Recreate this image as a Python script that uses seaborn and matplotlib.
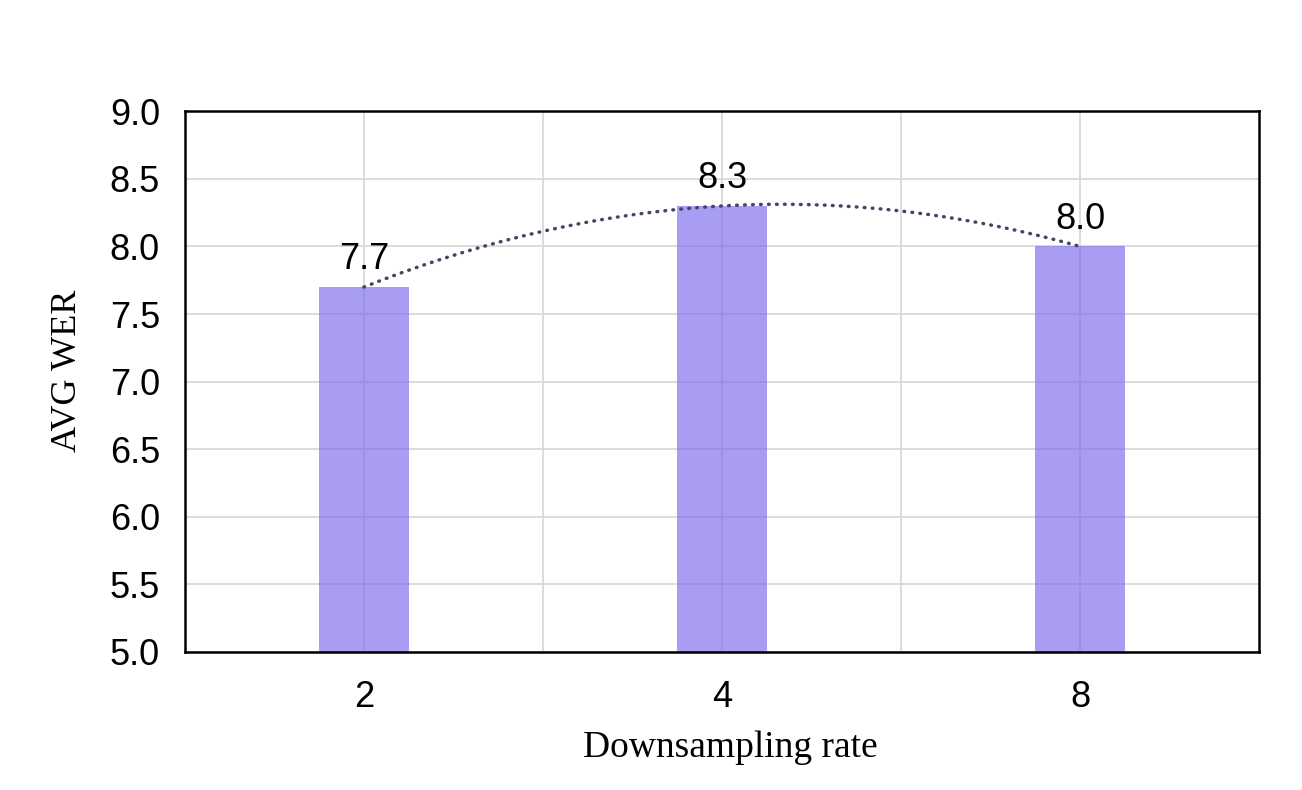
import numpy as np
import pandas as pd
import matplotlib
matplotlib.use("Agg")
import matplotlib.pyplot as plt
import seaborn as sns

# Data
rates = ["2", "4", "8"]
avg_wer = [7.7, 8.3, 8.0]
y_ticks = [5.0, 5.5, 6.0, 6.5, 7.0, 7.5, 8.0, 8.5, 9.0]

df = pd.DataFrame({"rate": rates, "wer": avg_wer})

sns.set_theme(style="white")
plt.rcParams["font.family"] = ["Liberation Sans", "DejaVu Sans"]

fig = plt.figure(figsize=(13.02, 7.9), dpi=100)
ax = fig.add_axes([0.142, 0.175, 0.825, 0.684])

ax.set_axisbelow(True)
sns.barplot(data=df, x="rate", y="wer", order=rates, color="#7B68EE",
            width=0.25, alpha=0.65, ax=ax, saturation=1, linewidth=0)

# smooth dotted trend curve through the bar tops
pos = np.arange(len(rates))
coef = np.polyfit(pos, avg_wer, 2)
xs = np.linspace(pos[0], pos[-1], 200)
ax.plot(xs, np.polyval(coef, xs), color="#3e4a63", lw=2.5,
        linestyle=(0, (0.2, 2.1)), dash_capstyle="round", zorder=3)

for p, v in zip(pos, avg_wer):
    ax.annotate(f"{v:.1f}", (p, v), xytext=(0, 7), textcoords="offset points",
                ha="center", va="bottom", fontsize=26, color="black")

ax.set_ylim(5.0, 9.0)
ax.set_xlim(-0.5, len(rates) - 0.5)
ax.set_yticks(y_ticks)
ax.set_yticklabels([f"{t:.1f}" for t in y_ticks])
ax.set_xticks(pos)
ax.set_xticklabels(rates)
ax.set_xticks(pos[:-1] + 0.5, minor=True)

ax.grid(True, which="both", color="#d9d9d9", lw=1.3)
ax.tick_params(axis="both", which="both", length=0, labelsize=26, colors="black")
ax.tick_params(axis="y", pad=18)
ax.tick_params(axis="x", pad=20)

for s in ax.spines.values():
    s.set_visible(True)
    s.set_color("black")
    s.set_linewidth(1.8)

ax.set_xlabel("Downsampling rate", fontsize=27, family=["Liberation Serif"], color="black")
ax.set_ylabel("AVG WER", fontsize=26, family=["Liberation Serif"], color="black")
ax.xaxis.set_label_coords(0.508, -0.145)
ax.yaxis.set_label_coords(-0.094, 0.52)

fig.savefig("out.png", dpi=100, facecolor="white")
